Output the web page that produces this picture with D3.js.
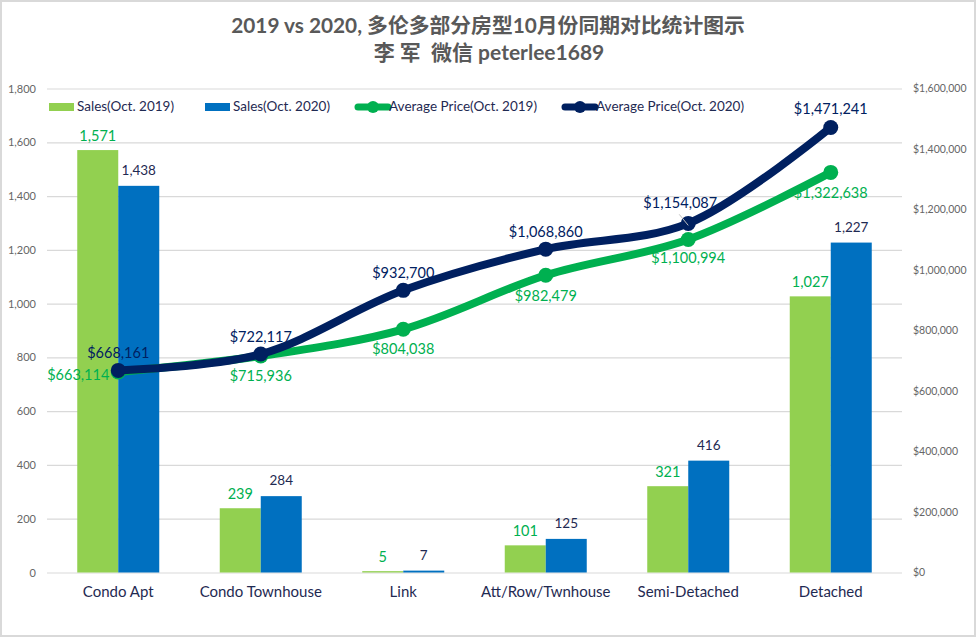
<!DOCTYPE html>
<html>
<head>
<meta charset="utf-8">
<script src="https://cdn.jsdelivr.net/npm/d3@7"></script>
<style>
  body { margin: 0; background: #fff; }
  text { font-family: Lato, "Noto Sans CJK SC", sans-serif; }
</style>
</head>
<body>
<div id="chart"></div>
<script>
const categories = ['Condo Apt', 'Condo Townhouse', 'Link', 'Att/Row/Twnhouse', 'Semi-Detached', 'Detached'];
const sales2019 = [1571, 239, 5, 101, 321, 1027];
const sales2020 = [1438, 284, 7, 125, 416, 1227];
const price2019 = [663114, 715936, 804038, 982479, 1100994, 1322638];
const price2020 = [668161, 722117, 932700, 1068860, 1154087, 1471241];
const salesTicks = [0, 200, 400, 600, 800, 1000, 1200, 1400, 1600, 1800];
const priceTicks = [0, 200000, 400000, 600000, 800000, 1000000, 1200000, 1400000, 1600000];

// label nudges from each point, excel put these by hand
const label2019Nudge = [[-40, 8], [0, 25], [0, 25], [0, 26], [0, 24], [0, 26]];
const label2020Nudge = [[0, -12], [0, -12], [0, -12], [0, -12], [-8, -15], [0, -13]];

const GREEN = '#92d050', BLUE = '#0070c0', LINE_GREEN = '#00b050', NAVY = '#002060';

const width = 977, height = 638;
const plotLeft = 47, plotRight = 902, plotTop = 88.5, plotBottom = 572.5;

const svg = d3.select('#chart').append('svg')
  .attr('width', width).attr('height', height)
  .style('display', 'block');

svg.append('rect')
  .attr('x', 1).attr('y', 1).attr('width', width - 3).attr('height', height - 3)
  .attr('fill', '#fff').attr('stroke', '#d9d9d9').attr('stroke-width', 2);

const x = d3.scaleBand().domain(categories).range([plotLeft, plotRight]);
const ySales = d3.scaleLinear().domain([0, 1800]).range([plotBottom, plotTop]);
const yPrice = d3.scaleLinear().domain([0, 1600000]).range([plotBottom, plotTop]);
const barW = 41;
const cx = (d) => x(d) + x.bandwidth() / 2;

// gridlines and axes
const leftAxis = svg.append('g')
  .attr('transform', `translate(${plotLeft},0)`)
  .call(d3.axisLeft(ySales).tickValues(salesTicks).tickSize(-(plotRight - plotLeft)).tickPadding(11).tickFormat(d3.format(',')));
leftAxis.select('.domain').remove();
leftAxis.selectAll('line').attr('stroke', '#d9d9d9').attr('stroke-width', 1.2);
leftAxis.selectAll('text').attr('fill', '#666').attr('font-size', 11);

const rightAxis = svg.append('g')
  .attr('transform', `translate(${plotRight},0)`)
  .call(d3.axisRight(yPrice).tickValues(priceTicks).tickSize(0).tickPadding(11).tickFormat(d3.format('$,')));
rightAxis.select('.domain').remove();
rightAxis.selectAll('text').attr('fill', '#666').attr('font-size', 10.5);

const catAxis = svg.append('g')
  .attr('transform', `translate(0,${plotBottom})`)
  .call(d3.axisBottom(x).tickSize(0).tickPadding(14));
catAxis.select('.domain').remove();
catAxis.selectAll('text').attr('fill', '#1f2a52').attr('font-size', 15).attr('font-family', 'Lato');

// bars
svg.append('g').selectAll('rect').data(categories).join('rect')
  .attr('x', (d) => cx(d) - barW).attr('width', barW)
  .attr('y', (d, i) => ySales(sales2019[i]))
  .attr('height', (d, i) => plotBottom - ySales(sales2019[i]))
  .attr('fill', GREEN);
svg.append('g').selectAll('rect').data(categories).join('rect')
  .attr('x', (d) => cx(d)).attr('width', barW)
  .attr('y', (d, i) => ySales(sales2020[i]))
  .attr('height', (d, i) => plotBottom - ySales(sales2020[i]))
  .attr('fill', BLUE);

// bar labels
svg.append('g').selectAll('text').data(categories).join('text')
  .attr('x', (d) => cx(d) - barW / 2)
  .attr('y', (d, i) => ySales(sales2019[i]) - 9)
  .attr('text-anchor', 'middle').attr('font-size', 14.5).attr('fill', LINE_GREEN)
  .text((d, i) => d3.format(',')(sales2019[i]));
svg.append('g').selectAll('text').data(categories).join('text')
  .attr('x', (d) => cx(d) + barW / 2)
  .attr('y', (d, i) => ySales(sales2020[i]) - 11)
  .attr('text-anchor', 'middle').attr('font-size', 13.5).attr('fill', '#1f2a52')
  .text((d, i) => d3.format(',')(sales2020[i]));

// price lines
function drawPrice(values, color, nudges) {
  const line = d3.line()
    .x((d, i) => cx(categories[i]))
    .y((d) => yPrice(d))
    .curve(d3.curveCatmullRom.alpha(0.5));
  svg.append('path').datum(values)
    .attr('d', line).attr('fill', 'none')
    .attr('stroke', color).attr('stroke-width', 8).attr('stroke-linecap', 'round');
  svg.append('g').selectAll('circle').data(values).join('circle')
    .attr('cx', (d, i) => cx(categories[i]))
    .attr('cy', (d) => yPrice(d))
    .attr('r', 7.5).attr('fill', color);
  svg.append('g').selectAll('text').data(values).join('text')
    .attr('x', (d, i) => cx(categories[i]) + nudges[i][0])
    .attr('y', (d, i) => yPrice(d) + nudges[i][1])
    .attr('text-anchor', 'middle').attr('font-size', 14.5).attr('fill', color)
    .text((d) => d3.format('$,')(d));
}
drawPrice(price2019, LINE_GREEN, label2019Nudge);
drawPrice(price2020, NAVY, label2020Nudge);

// leader from the moved semi-detached label
svg.append('line')
  .attr('x1', cx(categories[4]) - 9).attr('y1', yPrice(price2020[4]) - 9)
  .attr('x2', cx(categories[4])).attr('y2', yPrice(price2020[4]) + 2)
  .attr('stroke', '#bfbfbf').attr('stroke-width', 1);

// legend
const legendY = 106;
const legendBars = [[49, GREEN, 'Sales(Oct. 2019)'], [205, BLUE, 'Sales(Oct. 2020)']];
legendBars.forEach(([lx, color, label]) => {
  svg.append('rect').attr('x', lx).attr('y', legendY - 3).attr('width', 25).attr('height', 8).attr('fill', color);
  svg.append('text').attr('x', lx + 28).attr('y', legendY + 5).attr('font-size', 13.5).attr('fill', '#1f2a52').text(label);
});
const legendLines = [[358, LINE_GREEN, 'Average Price(Oct. 2019)'], [565, NAVY, 'Average Price(Oct. 2020)']];
legendLines.forEach(([lx, color, label]) => {
  svg.append('line').attr('x1', lx).attr('x2', lx + 30).attr('y1', legendY + 1).attr('y2', legendY + 1)
    .attr('stroke', color).attr('stroke-width', 7).attr('stroke-linecap', 'round');
  svg.append('circle').attr('cx', lx + 15).attr('cy', legendY + 1).attr('r', 6).attr('fill', color);
  svg.append('text').attr('x', lx + 31).attr('y', legendY + 5).attr('font-size', 13.5).attr('fill', '#1f2a52').text(label);
});

// title
svg.append('text').attr('x', 488).attr('y', 33).attr('text-anchor', 'middle')
  .attr('font-size', 20.8).attr('font-weight', 700).attr('fill', '#595959')
  .text('2019 vs 2020, 多伦多部分房型10月份同期对比统计图示');
svg.append('text').attr('x', 489).attr('y', 60).attr('text-anchor', 'middle')
  .attr('font-size', 21).attr('font-weight', 700).attr('fill', '#595959')
  .style('white-space', 'pre')
  .text('李 军  微信 peterlee1689');
</script>
</body>
</html>
